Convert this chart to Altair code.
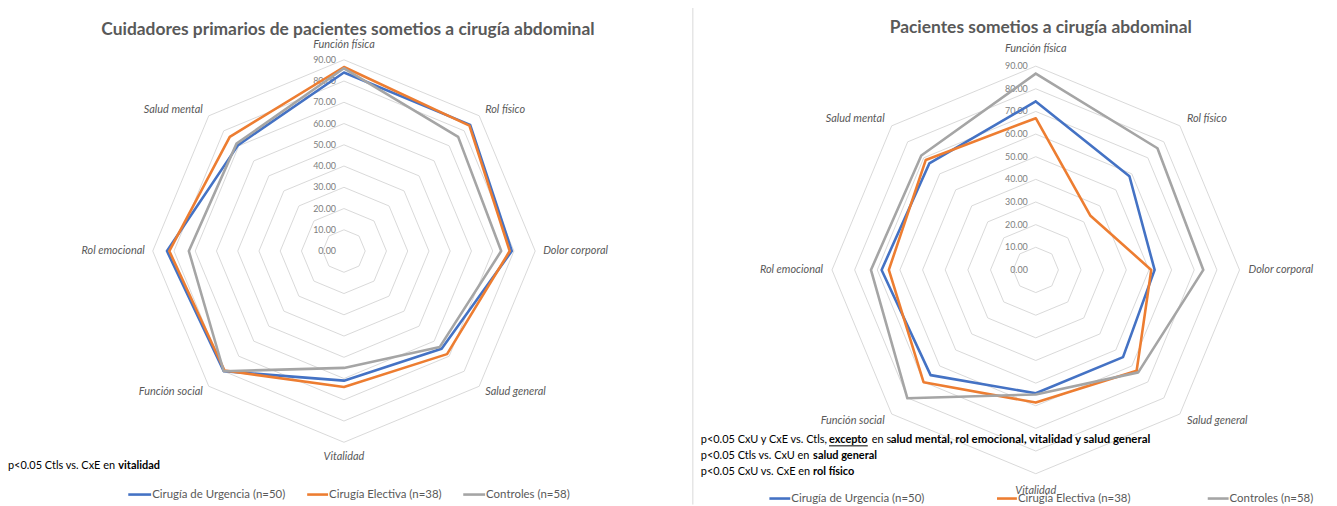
import altair as alt
import pandas as pd

# ---------------- data ----------------
categories = ["Función física", "Rol físico", "Dolor corporal", "Salud general",
              "Vitalidad", "Función social", "Rol emocional", "Salud mental"]
series_names = ["Cirugía de Urgencia (n=50)", "Cirugía Electiva (n=38)", "Controles (n=58)"]
series_colors = ["#4472C4", "#ED7D31", "#A5A5A5"]

# Cuidadores primarios (left panel)
cuid_urgencia = [84.0, 84.0, 79.0, 65.0, 61.0, 80.0, 83.3, 70.5]
cuid_electiva = [86.6, 83.5, 78.0, 68.6, 64.0, 79.5, 82.2, 76.0]
cuid_controles = [86.0, 76.0, 74.0, 63.8, 55.0, 80.0, 73.0, 71.5]

# Pacientes (right panel)
pac_urgencia = [74.4, 58.5, 52.5, 54.5, 54.5, 65.7, 68.1, 66.5]
pac_electiva = [67.0, 34.0, 51.0, 63.0, 58.6, 70.1, 64.9, 68.7]
pac_controles = [86.7, 76.0, 74.0, 64.0, 55.0, 80.2, 72.8, 71.5]

grid_levels = [10, 20, 30, 40, 50, 60, 70, 80, 90]
tick_values = [0, 10, 20, 30, 40, 50, 60, 70, 80, 90]
tick_labels = ["0.00", "10.00", "20.00", "30.00", "40.00", "50.00",
               "60.00", "70.00", "80.00", "90.00"]

title_left = "Cuidadores primarios de pacientes sometios a cirugía abdominal"
title_right = "Pacientes sometios a cirugía abdominal"

# ---------------- layout (page pixels) ----------------
OFF = 8
W, H = 1329, 498
FONT = "Lato"
TXT = "#595959"

xs = alt.Scale(domain=[0, W], nice=False, zero=False)
ys = alt.Scale(domain=[0, H], nice=False, zero=False, reverse=True)


def XY():
    return dict(x=alt.X("px:Q", scale=xs, axis=None),
                y=alt.Y("py:Q", scale=ys, axis=None))


def radar(values_list, cx, cy, r90, label_pad_v, label_pad_h, label_pad_d):
    k = r90 / 90.0
    cxc, cyc = cx - OFF, cy - OFF
    layers = []
    # grid octagons
    g = pd.DataFrame([{"level": lv, "idx": i} for lv in grid_levels for i in range(9)])
    layers.append(
        alt.Chart(g).transform_calculate(
            px=f"{cxc} + datum.level*{k}*sin(datum.idx*PI/4)",
            py=f"{cyc} - datum.level*{k}*cos(datum.idx*PI/4)",
        ).mark_line(color="#d9d9d9", strokeWidth=1).encode(
            **XY(), detail="level:N", order="idx:Q")
    )
    # tick labels
    t = pd.DataFrame({"v": tick_values, "lab": tick_labels})
    layers.append(
        alt.Chart(t).transform_calculate(
            px=f"{cxc - 8}",
            py=f"{cyc} - datum.v*{k}",
        ).mark_text(align="right", baseline="middle", font=FONT, fontSize=9,
                    color="#808080").encode(**XY(), text="lab:N")
    )
    # series
    for vals, col in zip(values_list, series_colors):
        d = pd.DataFrame({"idx": list(range(9)), "value": vals + [vals[0]]})
        layers.append(
            alt.Chart(d).transform_calculate(
                px=f"{cxc} + datum.value*{k}*sin(datum.idx*PI/4)",
                py=f"{cyc} - datum.value*{k}*cos(datum.idx*PI/4)",
            ).mark_line(color=col, strokeWidth=2.6, strokeJoin="round",
                        strokeCap="round").encode(**XY(), order="idx:Q")
        )
    # category labels
    c = pd.DataFrame({"idx": list(range(8)), "cat": categories})
    base = alt.Chart(c).transform_calculate(
        rr=f"(datum.idx % 4 == 0) ? {r90 + label_pad_v} : ((datum.idx % 4 == 2) ? {r90 + label_pad_h} : {r90 + label_pad_d})",
    ).transform_calculate(
        px=f"{cxc} + datum.rr*sin(datum.idx*PI/4)",
        py=f"{cyc} - datum.rr*cos(datum.idx*PI/4)",
    )
    for cond, al in [("datum.idx == 0 || datum.idx == 4", "center"),
                     ("datum.idx > 0 && datum.idx < 4", "left"),
                     ("datum.idx > 4", "right")]:
        layers.append(
            base.transform_filter(cond).mark_text(
                align=al, baseline="middle", font=FONT, fontSize=11,
                fontStyle="italic", color=TXT).encode(**XY(), text="cat:N")
        )
    return layers


def vtext(txt, x, y, align="left", size=11, weight="normal", color="black", style="normal"):
    return alt.Chart(pd.DataFrame({"t": [txt]})).mark_text(
        align=align, baseline="middle", font=FONT, fontSize=size, fontWeight=weight,
        color=color, fontStyle=style).encode(
        x=alt.value(x - OFF), y=alt.value(y - OFF), text="t:N")


def vrule(x1, x2, y1, y2, color, width):
    return alt.Chart(pd.DataFrame({"a": [0]})).mark_rule(color=color, strokeWidth=width).encode(
        x=alt.value(x1 - OFF), x2=alt.value(x2 - OFF),
        y=alt.value(y1 - OFF), y2=alt.value(y2 - OFF))


layers = []
layers.append(vrule(697, 697, 0, 506, "#d9d9d9", 1))

layers += radar([cuid_urgencia, cuid_electiva, cuid_controles], 346, 251, 192.4, 15, 8, 8.5)
layers += radar([pac_urgencia, pac_electiva, pac_controles], 1042, 270, 205, 17, 9, 10)

# titles
layers.append(vtext(title_left, 350, 29, align="center", size=17.5, weight="bold", color=TXT))
layers.append(vtext(title_right, 1047, 27, align="center", size=17.5, weight="bold", color=TXT))

# footnotes
layers.append(vtext("p<0.05 Ctls vs. CxE en", 8, 467))
layers.append(vtext("vitalidad", 119, 467, weight="bold"))

layers.append(vtext("p<0.05 CxU y CxE vs. Ctls,", 705, 441))
layers.append(vtext("excepto", 834, 441, weight="bold"))
layers.append(vrule(834, 873, 447, 447, "black", 1))
layers.append(vtext("en s", 877, 441))
layers.append(vtext("alud mental, rol emocional, vitalidad y salud general", 896, 441, size=11.5, weight="bold"))
layers.append(vtext("p<0.05 Ctls vs. CxU en", 705, 457))
layers.append(vtext("salud general", 818, 457, weight="bold"))
layers.append(vtext("p<0.05 CxU vs. CxE en", 705, 473))
layers.append(vtext("rol físico", 818, 473, weight="bold"))

# legends
left_leg = [(129, 152, 153), (309, 330, 331), (466, 488, 489)]
right_leg = [(774, 795, 796), (1003, 1023, 1024), (1215, 1236, 1237)]
for legpos, ly in [(left_leg, 496), (right_leg, 500)]:
    for (x1, x2, xt), name, col in zip(legpos, series_names, series_colors):
        layers.append(vrule(x1, x2, ly, ly, col, 2.6))
        layers.append(vtext(name, xt, ly, size=11.5, color=TXT))

chart = alt.layer(*layers).properties(width=W, height=H).configure_view(
    stroke=None).properties(autosize=alt.AutoSizeParams(type="none"), padding=0)

chart.save("out.html", embed_options={"renderer": "svg", "actions": False})
